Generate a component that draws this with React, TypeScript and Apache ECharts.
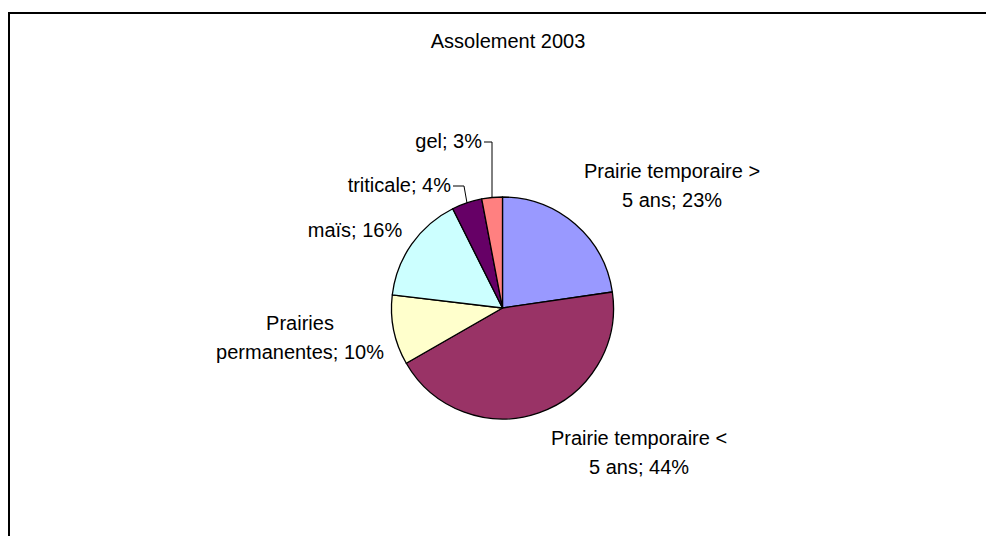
import React, { useEffect, useRef } from "react";
import * as echarts from "echarts";

const TITLE = "Assolement 2003";
const categories = [
  "Prairie temporaire >\n5 ans",
  "Prairie temporaire <\n5 ans",
  "Prairies\npermanentes",
  "maïs",
  "triticale",
  "gel",
];
const values = [22.7, 44.0, 10.2, 15.7, 4.4, 3.0];
const colors = ["#9999FF", "#993366", "#FFFFCC", "#CCFFFF", "#660066", "#FF8080"];

// label anchors (layout only)
const labelPos: { x: number; y: number; align: string; line?: number[][] }[] = [
  { x: 672, y: 185, align: "center" },
  { x: 639, y: 452, align: "center" },
  { x: 300, y: 337, align: "center" },
  { x: 355, y: 230, align: "center" },
  { x: 451, y: 185, align: "right", line: [[453, 186], [464, 186], [467, 203]] },
  { x: 482, y: 141, align: "right", line: [[484, 142], [492, 142], [492, 198]] },
];

export default function App() {
  const ref = useRef<HTMLDivElement>(null);
  useEffect(() => {
    if (!ref.current) return;
    const chart = echarts.init(ref.current, undefined, { renderer: "svg" });
    const font = "'Liberation Sans', Arial, sans-serif";
    chart.setOption({
      animation: false,
      backgroundColor: "#ffffff",
      title: {
        text: TITLE,
        left: 503,
        textAlign: "center",
        top: 26,
        textStyle: { fontFamily: font, fontSize: 20, fontWeight: "normal", color: "#000" },
      },
      graphic: [
        {
          type: "rect",
          shape: { x: 9, y: 13, width: 1100, height: 1000 },
          style: { fill: "none", stroke: "#000", lineWidth: 2 },
          silent: true,
        },
      ],
      series: [
        {
          type: "pie",
          center: [502.5, 308],
          radius: 111,
          startAngle: 90,
          clockwise: true,
          avoidLabelOverlap: false,
          itemStyle: { borderColor: "#000", borderWidth: 1.3 },
          label: {
            show: true,
            position: "outside",
            fontFamily: font,
            fontSize: 20,
            lineHeight: 29,
            color: "#000",
            formatter: (p: any) => `${p.name}; ${Math.round(p.percent)}%`,
          },
          labelLine: { show: true, lineStyle: { color: "#000", width: 1 }, length: 5, length2: 5 },
          labelLayout: (params: any) => {
            const lp = labelPos[params.dataIndex];
            const out: any = { x: lp.x, y: lp.y, align: lp.align, verticalAlign: "middle" };
            if (lp.line) out.labelLinePoints = lp.line;
            return out;
          },
          data: categories.map((name, i) => ({
            name,
            value: values[i],
            itemStyle: { color: colors[i] },
            label: { align: labelPos[i].align },
            labelLine: { show: !!labelPos[i].line },
          })),
        },
      ],
    });
    return () => chart.dispose();
  }, []);
  return (
    <div
      ref={ref}
      style={{ position: "fixed", left: 0, top: 0, width: 986, height: 536 }}
    />
  );
}
